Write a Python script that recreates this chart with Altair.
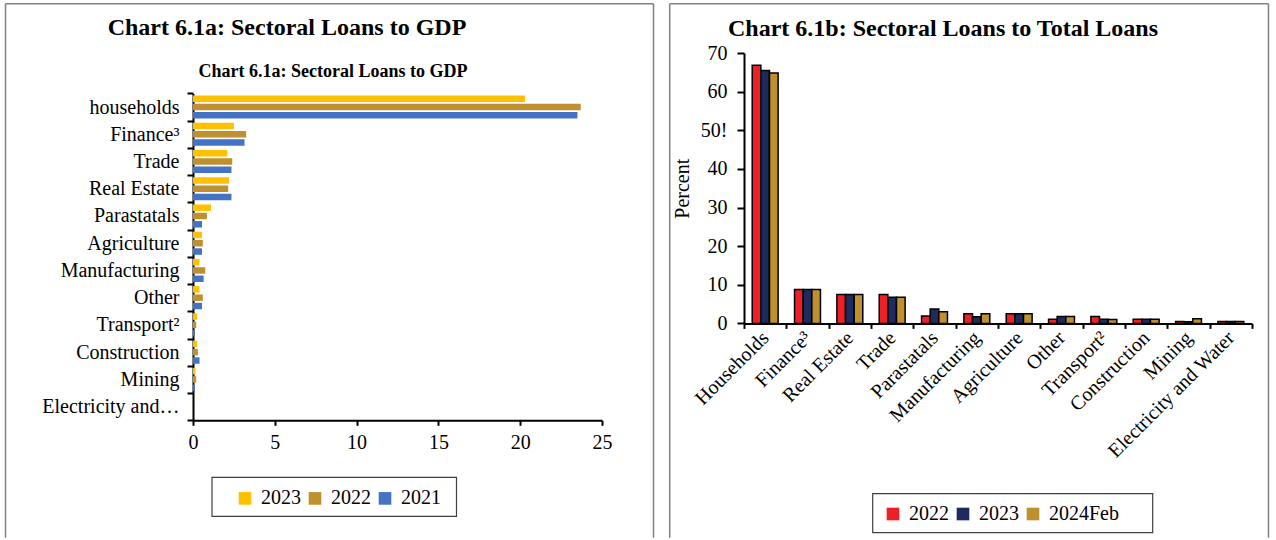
import altair as alt
import pandas as pd

FONT = "Liberation Serif"

# ---------------- Chart 6.1a data ----------------
sectors_a = ["households", "Finance³", "Trade", "Real Estate", "Parastatals",
             "Agriculture", "Manufacturing", "Other", "Transport²",
             "Construction", "Mining", "Electricity and…"]
years_a = ["2023", "2022", "2021"]
gdp_2023 = [20.3, 2.5, 2.1, 2.2, 1.1, 0.55, 0.4, 0.4, 0.25, 0.25, 0.15, 0.0]
gdp_2022 = [23.7, 3.25, 2.4, 2.15, 0.85, 0.6, 0.75, 0.6, 0.2, 0.3, 0.2, 0.0]
gdp_2021 = [23.5, 3.15, 2.35, 2.35, 0.55, 0.55, 0.65, 0.55, 0.12, 0.4, 0.12, 0.0]
colors_a = ["#FFC000", "#BF9030", "#4472C4"]
ticks_a = [0, 5, 10, 15, 20, 25]

# ---------------- Chart 6.1b data ----------------
sectors_b = ["Households", "Finance³", "Real Estate", "Trade", "Parastatals",
             "Manufacturing", "Agriculture", "Other", "Transport²",
             "Construction", "Mining", "Electricity and Water"]
years_b = ["2022", "2023", "2024Feb"]
tl_2022 = [66.8, 8.8, 7.5, 7.5, 1.9, 2.5, 2.5, 1.1, 1.8, 1.1, 0.5, 0.5]
tl_2023 = [65.5, 8.8, 7.5, 6.8, 3.7, 1.7, 2.5, 1.8, 1.1, 1.1, 0.4, 0.5]
tl_2024 = [64.8, 8.8, 7.5, 6.8, 3.0, 2.5, 2.5, 1.8, 1.0, 1.1, 1.2, 0.5]
colors_b = ["#EE2027", "#1F2A5E", "#BF9030"]
ticks_b = [0, 10, 20, 30, 40, 50, 60, 70]

rows_a = []
for yr, vals in zip(years_a, [gdp_2023, gdp_2022, gdp_2021]):
    for s, v in zip(sectors_a, vals):
        rows_a.append({"sector": s, "year": yr, "value": v})
df_a = pd.DataFrame(rows_a)

rows_b = []
for yr, vals in zip(years_b, [tl_2022, tl_2023, tl_2024]):
    for s, v in zip(sectors_b, vals):
        rows_b.append({"sector": s, "year": yr, "value": v})
df_b = pd.DataFrame(rows_b)

one = alt.Data(values=[{"k": 1}])

# both panels share the same plot origin row; left band range starts lower
W_A, H_A = 409, 367.3
BAND_TOP_A = 40.4
W_B, H_B = 508, 270.4


def frame(x1, x2, y1, y2):
    base = alt.Chart(one).mark_rule(color="#808080", strokeWidth=1.5, clip=False)
    return [
        base.encode(x=alt.value(x1), y=alt.value(y1), y2=alt.value(y2)),
        base.encode(x=alt.value(x2), y=alt.value(y1), y2=alt.value(y2)),
        base.encode(x=alt.value(x1), x2=alt.value(x2), y=alt.value(y1)),
    ]


def box(x1, x2, y1, y2):
    return alt.Chart(one).mark_rect(fill="transparent", stroke="#404040",
                                    strokeWidth=1.2, clip=False).encode(
        x=alt.value(x1), x2=alt.value(x2), y=alt.value(y1), y2=alt.value(y2))


def label(txt, x, y, size, weight="bold"):
    return alt.Chart(one).mark_text(text=txt, font=FONT, fontSize=size,
                                    fontWeight=weight, color="black",
                                    align="center", baseline="middle").encode(
        x=alt.value(x), y=alt.value(y))


legend_common = dict(orient="none", direction="horizontal", columns=3, title=None,
                     symbolType="square", symbolSize=160, symbolStrokeWidth=0,
                     labelFont=FONT, labelFontSize=20, labelColor="black",
                     labelOffset=6, columnPadding=4, padding=0)

bars_a = alt.Chart(df_a).mark_bar().encode(
    x=alt.X("value:Q", scale=alt.Scale(domain=[0, 25]),
            axis=alt.Axis(values=ticks_a, title=None, grid=False, tickSize=5,
                          tickWidth=2, tickColor="black", domainColor="black",
                          domainWidth=2, labelFont=FONT, labelFontSize=20,
                          labelColor="black", labelPadding=7, labelFlush=False)),
    y=alt.Y("sector:N", sort=sectors_a,
            scale=alt.Scale(paddingInner=0, paddingOuter=0,
                            range=[BAND_TOP_A, H_A]),
            axis=alt.Axis(title=None, tickBand="extent", tickSize=6, tickWidth=2,
                          tickColor="black", domainColor="black", domainWidth=2,
                          labelFont=FONT, labelFontSize=20, labelColor="black",
                          labelPadding=8, labelLimit=300)),
    yOffset=alt.YOffset("year:N", sort=years_a,
                        scale=alt.Scale(paddingInner=0.22, paddingOuter=0.25)),
    color=alt.Color("year:N", sort=years_a,
                    scale=alt.Scale(domain=years_a, range=colors_a),
                    legend=alt.Legend(legendX=42, legendY=435.4, **legend_common)),
)

left = alt.layer(
    bars_a,
    *frame(-187.5, 460.5, -49.3, 484.7),
    box(19, 263.5, 424.4, 463.4),
    label("Chart 6.1a: Sectoral Loans to GDP", 94, -24.6, 24),
    label("Chart 6.1a: Sectoral Loans to GDP", 140, 19.4, 18),
).properties(width=W_A, height=H_A)

bars_b = alt.Chart(df_b).mark_bar(stroke="black", strokeWidth=1.5).encode(
    x=alt.X("sector:N", sort=sectors_b,
            scale=alt.Scale(paddingInner=0, paddingOuter=0),
            axis=alt.Axis(title=None, tickBand="extent", tickSize=5, tickWidth=2,
                          tickColor="black", domainColor="black", domainWidth=2,
                          labelFont=FONT, labelFontSize=20, labelColor="black",
                          labelAngle=-45, labelAlign="right", labelBaseline="middle",
                          labelPadding=6, labelLimit=400)),
    xOffset=alt.XOffset("year:N", sort=years_b,
                        scale=alt.Scale(paddingInner=0, paddingOuter=0.95)),
    y=alt.Y("value:Q", scale=alt.Scale(domain=[0, 70]),
            axis=alt.Axis(values=ticks_b, title="Percent", grid=False, tickSize=7,
                          tickWidth=2, tickColor="black", domainColor="black",
                          domainWidth=2, labelFont=FONT, labelFontSize=20,
                          labelColor="black", labelPadding=10,
                          labelExpr="datum.value == 50 ? '50!' : datum.label",
                          titleFont=FONT, titleFontSize=20, titleFontWeight="normal",
                          titleColor="black", titlePadding=8)),
    color=alt.Color("year:N", sort=years_b,
                    scale=alt.Scale(domain=years_b, range=colors_b),
                    legend=alt.Legend(legendX=139, legendY=451, **legend_common)),
)

right = alt.layer(
    bars_b,
    *frame(-74.3, 524.5, -49.3, 484.7),
    box(128.7, 408.7, 440.7, 479.7),
    label("Chart 6.1b: Sectoral Loans to Total Loans", 199, -24, 24),
).properties(width=W_B, height=H_B)

chart = alt.hconcat(left, right, spacing=13).resolve_scale(
    color="independent"
).properties(
    padding={"left": 4, "top": 2, "right": 0, "bottom": 0},
    background="white",
).configure_view(stroke="transparent")

chart.save("out.html", embed_options={"renderer": "svg", "actions": False})
